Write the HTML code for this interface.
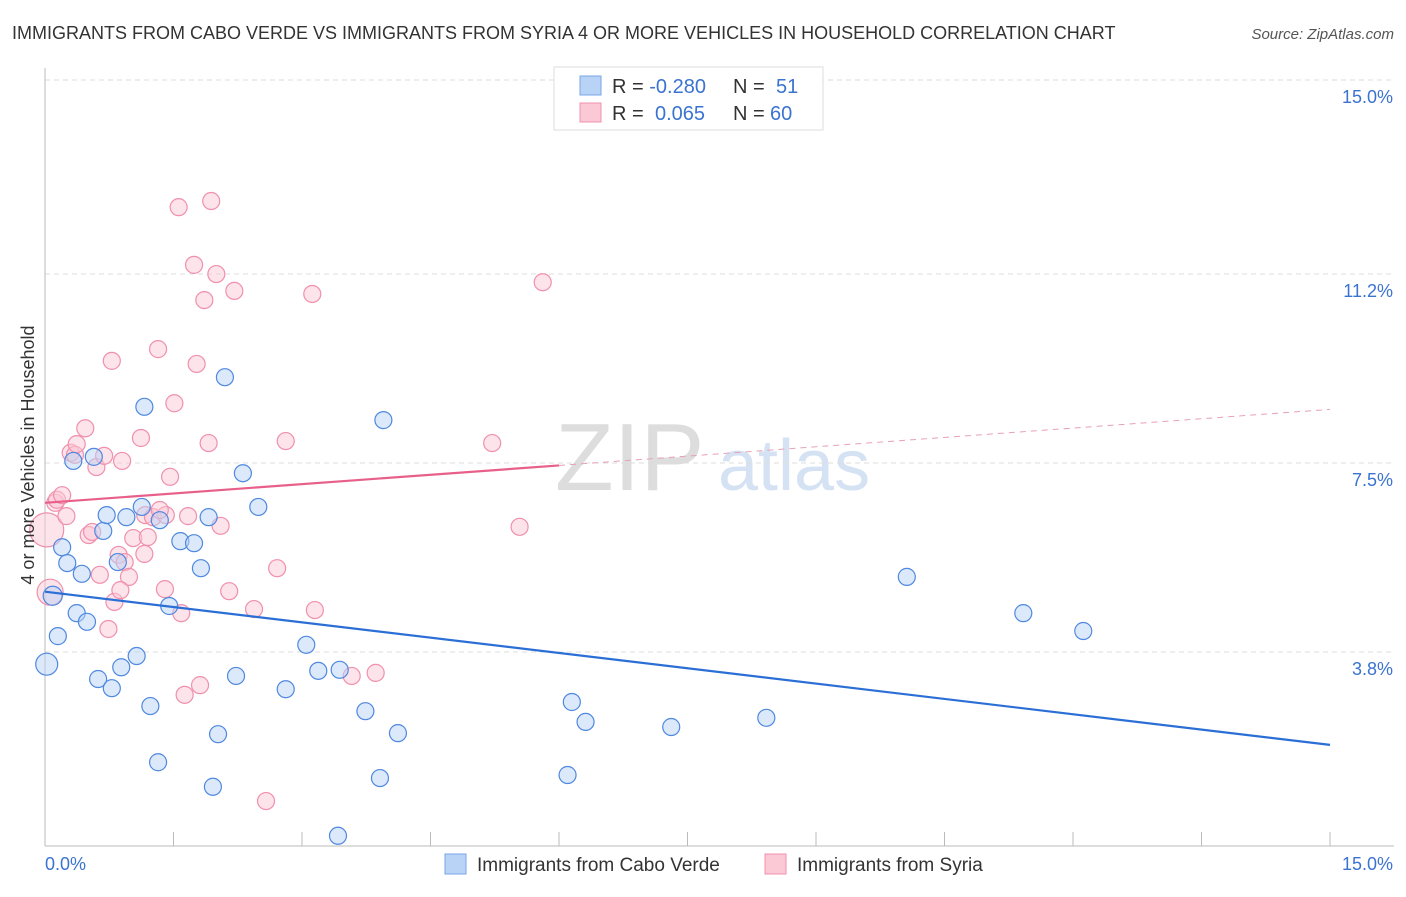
<!DOCTYPE html>
<html><head><meta charset="utf-8"><style>
body{margin:0;background:#fff;font-family:"Liberation Sans",sans-serif}
svg text{font-family:"Liberation Sans",sans-serif}
</style></head><body>
<svg id="chart" width="1406" height="892" viewBox="0 0 1406 892" xmlns="http://www.w3.org/2000/svg">
<text x="12" y="39" font-size="18" fill="#333">IMMIGRANTS FROM CABO VERDE VS IMMIGRANTS FROM SYRIA 4 OR MORE VEHICLES IN HOUSEHOLD CORRELATION CHART</text>
<text x="1394" y="39" font-size="15" fill="#555" font-style="italic" text-anchor="end">Source: ZipAtlas.com</text>
<g>
<text x="555" y="490" font-size="96" fill="#ddd" font-family="Liberation Serif">ZIP</text>
<text x="718" y="490" font-size="72" fill="#d5e2f3">atlas</text>
</g>
<g id="grid"></g>
<g id="axes"></g>
<g id="trend"></g>
<g id="pts"></g>
<text transform="translate(34,455) rotate(-90)" font-size="18" fill="#333" text-anchor="middle">4 or more Vehicles in Household</text>
<g>
<rect x="554" y="67" width="269" height="63" fill="#fff" stroke="#ddd"/>
<rect x="580" y="76" width="21" height="19" fill="#b8d3f5" stroke="#7aa6e6"/>
<rect x="580" y="103" width="21" height="19" fill="#fbc8d6" stroke="#f090ac"/>
<text x="612" y="93" font-size="20" fill="#333">R = <tspan fill="#3b73d1">-0.280</tspan><tspan x="733">N = </tspan><tspan x="776" fill="#3b73d1">51</tspan></text>
<text x="612" y="120" font-size="20" fill="#333">R = <tspan x="655" fill="#3b73d1">0.065</tspan><tspan x="733">N = </tspan><tspan x="770" fill="#3b73d1">60</tspan></text>
</g>
<g>
<rect x="445" y="854" width="21" height="20" fill="#b8d3f5" stroke="#7aa6e6"/>
<text x="477" y="871" font-size="19" fill="#333">Immigrants from Cabo Verde</text>
<rect x="765" y="854" width="21" height="20" fill="#fbc8d6" stroke="#f090ac"/>
<text x="797" y="871" font-size="19" fill="#333">Immigrants from Syria</text>
</g>
</svg>
<script>
const blueX=[0.02,0.09,0.15,0.20,0.26,0.33,0.37,0.43,0.49,0.57,0.62,0.68,0.72,0.78,0.85,0.89,0.95,1.07,1.16,1.13,1.23,1.32,1.34,1.45,1.58,1.74,1.82,1.91,1.96,2.02,2.10,2.23,2.31,2.49,2.81,3.05,3.19,3.42,3.44,3.74,3.91,3.95,4.12,6.10,6.15,6.31,7.31,8.42,10.06,11.42,12.12];
const blueY=[3.56,4.90,4.11,5.85,5.54,7.54,4.56,5.33,4.39,7.62,3.27,6.17,6.48,3.09,5.56,3.50,6.44,3.72,8.60,6.64,2.74,1.64,6.38,4.70,5.97,5.93,5.44,6.44,1.16,2.19,9.18,3.33,7.30,6.64,3.07,3.94,3.43,0.20,3.45,2.64,1.33,8.34,2.21,1.39,2.82,2.43,2.33,2.51,5.27,4.56,4.21];
const pinkX=[0.02,0.06,0.12,0.14,0.20,0.25,0.30,0.35,0.37,0.47,0.51,0.55,0.60,0.64,0.69,0.74,0.78,0.81,0.86,0.90,0.93,0.98,1.12,1.17,1.16,1.03,1.20,1.26,1.32,1.40,1.41,1.46,1.51,1.56,1.59,1.63,1.67,1.74,1.77,1.81,1.86,1.91,1.94,2.00,2.05,2.15,2.21,2.44,2.58,2.71,2.81,3.12,3.15,3.58,3.86,5.22,5.54,5.81,1.34,0.88];
const pinkY=[6.19,4.97,6.72,6.78,6.87,6.46,7.70,7.66,7.87,8.18,6.09,6.15,7.42,5.31,7.64,4.25,9.50,4.78,5.70,7.54,5.56,5.27,7.99,6.48,5.72,6.03,6.05,6.44,9.73,5.03,6.48,7.23,8.67,12.51,4.56,2.96,6.46,11.38,9.44,3.15,10.69,7.89,12.63,11.20,6.27,4.99,10.87,4.64,0.88,5.44,7.93,10.81,4.62,3.33,3.39,7.89,6.25,11.04,6.58,5.01];
const yTicks=[3.8,7.5,11.2,15.0];
const yTickLabels=["3.8%","7.5%","11.2%","15.0%"];
const blueTrend=[4.98,1.98]; // y at x=0 and x=15
const pinkTrend=[6.72,8.55];
const pinkSolidEnd=6.0;
const NS='http://www.w3.org/2000/svg';
const X0=45,X1=1330,Y0=846,YTOP=80;
const sx=v=>X0+(X1-X0)*v/15;
const sy=v=>Y0-(Y0-YTOP)*v/15;
function mk(tag,at,parent){const e=document.createElementNS(NS,tag);for(const k in at)e.setAttribute(k,at[k]);parent.appendChild(e);return e;}
const grid=document.getElementById('grid'),axes=document.getElementById('axes'),trend=document.getElementById('trend'),pts=document.getElementById('pts');
yTicks.forEach((t,i)=>{
 const l=mk('line',{x1:X0,x2:1394,y1:sy(t),y2:sy(t),stroke:'#ddd','stroke-dasharray':'5,4'},grid);
 
 
 const tx=mk('text',{x:1393,y:sy(t)+23,'font-size':18,fill:'#3b73d1','text-anchor':'end'},axes);
 tx.textContent=yTickLabels[i];
 
 
});
let a=mk('line',{x1:X0,x2:X0,y1:68,y2:846,stroke:'#bbb'},axes);


a=mk('line',{x1:X0,x2:1394,y1:846,y2:846,stroke:'#bbb'},axes);


for(let i=0;i<=10;i++){
 const t=mk('line',{x1:sx(i*1.5),x2:sx(i*1.5),y1:832,y2:846,stroke:'#bbb'},axes);
 
 
}
[['0.0%',45,'start'],['15.0%',1393,'end']].forEach(([s,x,anc])=>{
 const t=mk('text',{x:x,y:870,'font-size':18,fill:'#3b73d1','text-anchor':anc},axes);
 t.textContent=s;
 
 
});
function draw(xs,ys,fill,stroke,big,name){
 xs.forEach((x,i)=>{
  const r=big[i]||8.5;
  const c=mk('circle',{cx:sx(x),cy:sy(ys[i]),r:r,fill:fill,'fill-opacity':0.5,stroke:stroke,'stroke-width':1.2},pts);
  
  
 });
}
draw(pinkX,pinkY,'#fbc8d6','#f090ac',{0:17,1:13},'point-syria');
draw(blueX,blueY,'#b8d3f5','#4f88e0',{0:11,1:9.5},'point-cabo-verde');
let ln=mk('line',{x1:sx(0),y1:sy(blueTrend[0]),x2:sx(15),y2:sy(blueTrend[1]),stroke:'#2b6fd6','stroke-width':2.2},trend);


const py=x=>pinkTrend[0]+(pinkTrend[1]-pinkTrend[0])*x/15;
ln=mk('line',{x1:sx(0),y1:sy(py(0)),x2:sx(pinkSolidEnd),y2:sy(py(pinkSolidEnd)),stroke:'#e8608a','stroke-width':2.2},trend);


ln=mk('line',{x1:sx(pinkSolidEnd),y1:sy(py(pinkSolidEnd)),x2:sx(15),y2:sy(py(15)),stroke:'#e8a0b5','stroke-width':1,'stroke-dasharray':'6,5'},trend);


trend.parentNode.appendChild(trend);
</script>
</body></html>
